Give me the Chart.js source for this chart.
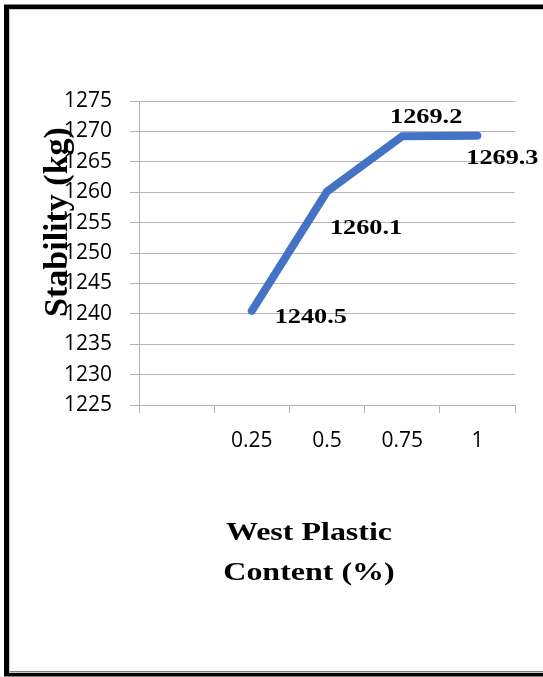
<!DOCTYPE html>
<html>
<head>
<meta charset="utf-8">
<script src="https://cdn.jsdelivr.net/npm/chart.js@4.4.1/dist/chart.umd.min.js"></script>
<style>
  html, body { margin: 0; padding: 0; background: #fff; }
  canvas { display: block; }
</style>
</head>
<body>
<canvas id="c" width="543" height="677"></canvas>
<script>
// Marshall stability against waste plastic content
const categories = ['', '0.25', '0.5', '0.75', '1'];
const stability = [null, 1240.5, 1260.1, 1269.2, 1269.3];
const yMin = 1225;
const yMax = 1275;
const yStep = 5;
const xTitleLines = ['West Plastic', 'Content (%)'];
const yTitleText = 'Stability (kg)';

// where each value label sits relative to its point: [dx to centre, dy to baseline]
const labelOffsets = [null, [59, 12], [39, 42], [24, -13], [25, 28]];

const GRID = '#b4b4b4';
const SERIF = '"Liberation Serif", "Times New Roman", serif';
const SANS = '"Open Sans", sans-serif';

const framePlugin = {
  id: 'frame',
  beforeDraw(chart) {
    const ctx = chart.ctx;
    ctx.save();
    ctx.fillStyle = '#fff';
    ctx.fillRect(0, 0, chart.width, chart.height);
    ctx.strokeStyle = '#000';
    ctx.lineWidth = 5;
    ctx.strokeRect(6.5, 7, chart.width + 20, chart.height - 10);
    ctx.strokeStyle = '#c8c8c8';
    ctx.lineWidth = 1;
    ctx.strokeRect(9.5, 9.5, chart.width + 20, chart.height - 14);
    ctx.restore();
  }
};

const valueLabelPlugin = {
  id: 'valueLabels',
  afterDatasetsDraw(chart) {
    const ctx = chart.ctx;
    const meta = chart.getDatasetMeta(0);
    ctx.save();
    ctx.font = 'bold 21px ' + SERIF;
    ctx.fillStyle = '#000';
    ctx.textAlign = 'center';
    ctx.textBaseline = 'alphabetic';
    meta.data.forEach((pt, i) => {
      const v = stability[i];
      if (v === null || !labelOffsets[i]) return;
      ctx.save();
      ctx.translate(pt.x + labelOffsets[i][0], pt.y + labelOffsets[i][1]);
      ctx.scale(1.25, 1);
      ctx.fillText(v.toFixed(1), 0, 0);
      ctx.restore();
    });
    ctx.restore();
  }
};

const axisTitlePlugin = {
  id: 'axisTitles',
  afterDraw(chart) {
    const ctx = chart.ctx;
    const a = chart.chartArea;
    ctx.save();
    ctx.fillStyle = '#000';
    ctx.textAlign = 'center';
    ctx.textBaseline = 'alphabetic';

    // vertical title
    ctx.save();
    ctx.translate(a.left - 72, a.top + 121);
    ctx.rotate(-Math.PI / 2);
    ctx.font = 'bold 34px ' + SERIF;
    ctx.fillText(yTitleText, 0, 0);
    ctx.restore();

    // horizontal title, two lines
    ctx.font = 'bold 26px ' + SERIF;
    xTitleLines.forEach((line, k) => {
      ctx.save();
      ctx.translate(a.left + 170, a.bottom + 135 + k * 40);
      ctx.scale(1.23, 1);
      ctx.fillText(line, 0, 0);
      ctx.restore();
    });
    ctx.restore();
  }
};

new Chart(document.getElementById('c'), {
  type: 'line',
  data: {
    labels: categories,
    datasets: [{
      data: stability,
      borderColor: '#4472C4',
      borderWidth: 8,
      borderCapStyle: 'round',
      borderJoinStyle: 'miter',
      pointRadius: 0,
      pointHoverRadius: 0,
      tension: 0,
      fill: false
    }]
  },
  options: {
    responsive: false,
    animation: false,
    events: [],
    layout: { padding: { top: 101, right: 28, left: 0, bottom: 0 } },
    plugins: {
      legend: { display: false },
      tooltip: { enabled: false }
    },
    scales: {
      x: {
        type: 'category',
        offset: true,
        afterFit(scale) { scale.height = 272; },
        grid: {
          offset: true,
          drawOnChartArea: false,
          drawTicks: true,
          tickLength: 8,
          color: GRID,
          lineWidth: 1
        },
        border: { display: true, color: GRID, width: 1 },
        ticks: {
          color: '#000',
          padding: 15,
          maxRotation: 0,
          autoSkip: false,
          font: { family: SANS, size: 21 }
        }
      },
      y: {
        min: yMin,
        max: yMax,
        afterFit(scale) { scale.width = 139; },
        grid: {
          color: GRID,
          lineWidth: 1,
          drawTicks: true,
          tickLength: 9
        },
        border: { display: true, color: GRID, width: 1 },
        ticks: {
          stepSize: yStep,
          color: '#000',
          padding: 18,
          font: { family: SANS, size: 21 },
          callback: (v) => String(v)
        }
      }
    }
  },
  plugins: [framePlugin, valueLabelPlugin, axisTitlePlugin]
});
</script>
</body>
</html>
